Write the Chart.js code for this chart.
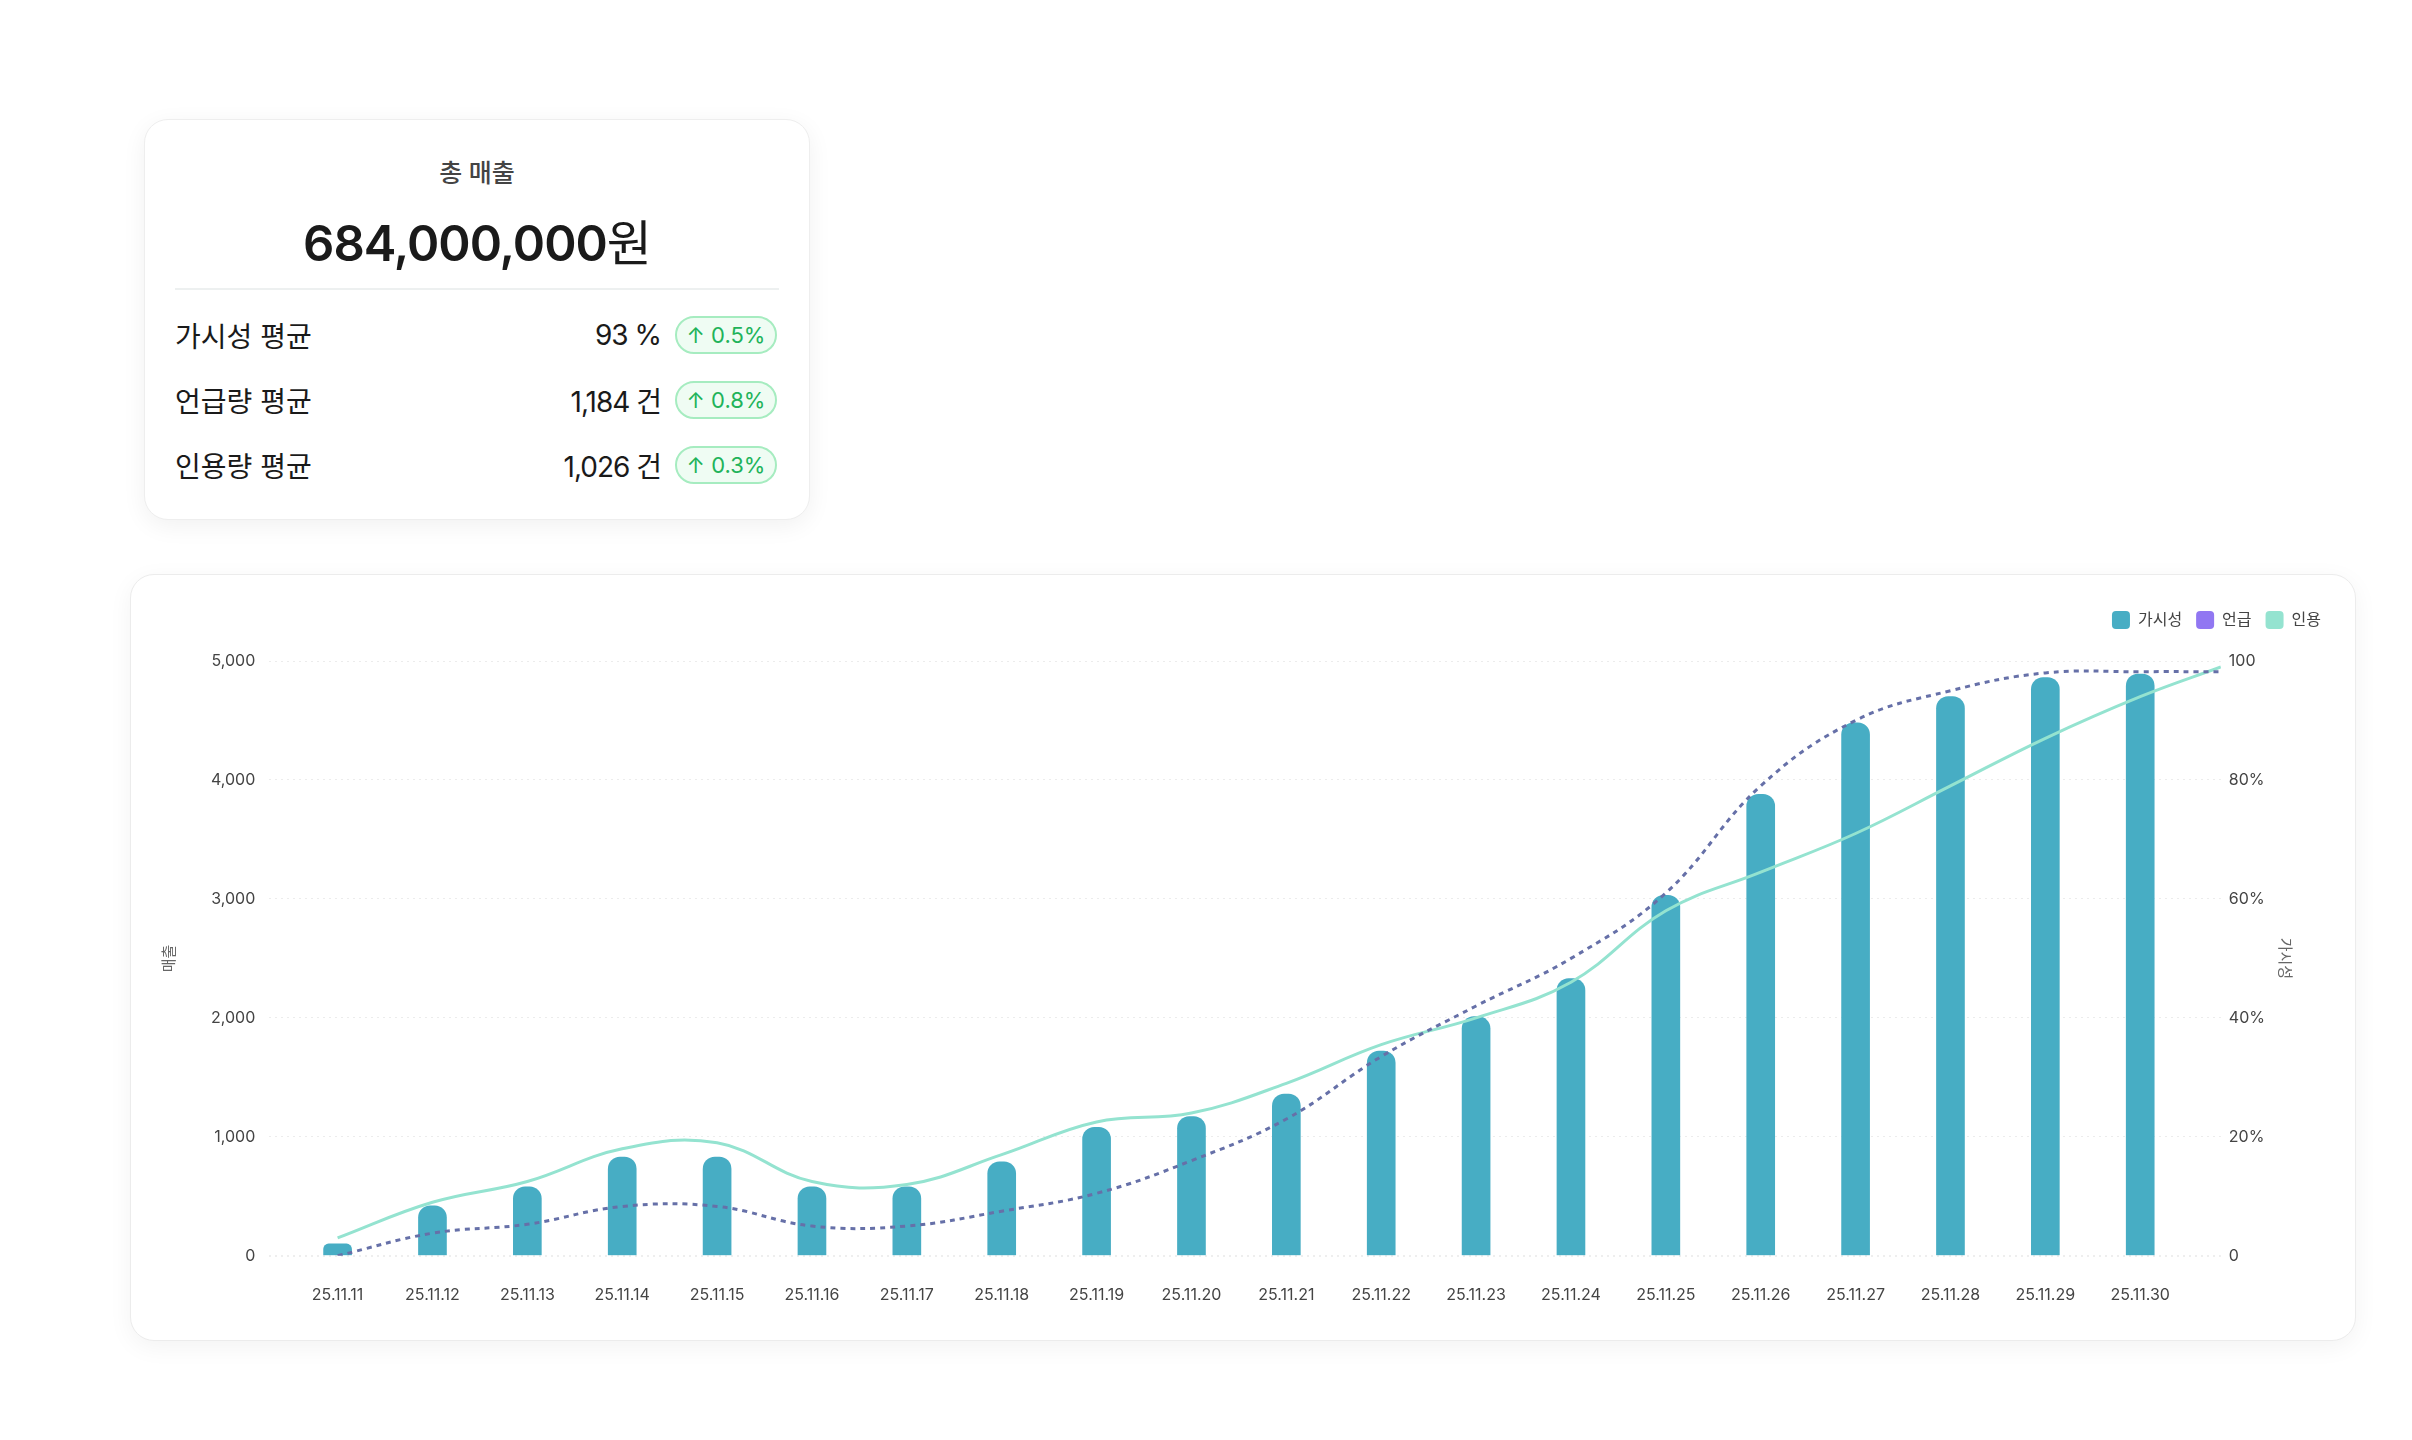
<!DOCTYPE html>
<html>
<head>
<meta charset="utf-8">
<script src="https://cdn.jsdelivr.net/npm/chart.js@4.4.1/dist/chart.umd.min.js"></script>
<style>
  body { margin: 0; width: 2412px; height: 1440px; background: #fff; font-family: Inter, "Noto Sans CJK KR", sans-serif; position: relative; }
  .card { position: absolute; left: 144px; top: 119px; width: 666px; height: 401px; box-sizing: border-box; border: 1px solid #eee; border-radius: 24px; box-shadow: 0 6px 24px rgba(0,0,0,0.06); background: #fff; }
  .title { position: absolute; top: 33px; width: 100%; text-align: center; font-size: 25px; color: #444; font-weight: 500; }
  .total { position: absolute; top: 84px; width: 100%; text-align: center; font-size: 49px; color: #1a1a1a; font-weight: 600; letter-spacing: -1px; }
  .total span { font-weight: 400; }
  .divider { position: absolute; left: 30px; right: 30px; top: 168px; border-top: 2px solid #edf0f0; }
  .row { position: absolute; left: 30px; right: 32px; height: 40px; font-size: 28px; color: #1a1a1a; display: flex; align-items: center; }
  .row .lab { flex: 1; }
  .row .val { margin-right: 14px; letter-spacing: -1px; }
  .badge { width: 102px; height: 38px; box-sizing: border-box; border: 2px solid #a6ecc0; background: #effcf3; color: #21b35a; border-radius: 19px; font-size: 22px; display: flex; align-items: center; justify-content: center; }
  .panel { position: absolute; left: 130px; top: 574px; width: 2226px; height: 767px; box-sizing: border-box; border: 1px solid #ececec; border-radius: 24px; box-shadow: 0 6px 24px rgba(0,0,0,0.05); background: #fff; }
  .wrap { position: absolute; left: 14px; top: 22px; width: 2200px; height: 730px; }
</style>
</head>
<body>
<div class="card">
  <div class="title">총 매출</div>
  <div class="total">684,000,000<span>원</span></div>
  <div class="divider"></div>
  <div class="row" style="top:195px"><div class="lab">가시성 평균</div><div class="val">93 %</div><div class="badge">↑ 0.5%</div></div>
  <div class="row" style="top:260px"><div class="lab">언급량 평균</div><div class="val">1,184 건</div><div class="badge">↑ 0.8%</div></div>
  <div class="row" style="top:325px"><div class="lab">인용량 평균</div><div class="val">1,026 건</div><div class="badge">↑ 0.3%</div></div>
</div>
<div class="panel"><div class="wrap"><canvas id="my-chart"></canvas></div></div>
<script>
const labels = ['25.11.11', '25.11.12', '25.11.13', '25.11.14', '25.11.15', '25.11.16', '25.11.17', '25.11.18', '25.11.19', '25.11.20',
  '25.11.21', '25.11.22', '25.11.23', '25.11.24', '25.11.25', '25.11.26', '25.11.27', '25.11.28', '25.11.29', '25.11.30'];
const salesValues = [100, 420, 580, 830, 830, 580, 580, 790, 1080, 1170, 1360, 1720, 2010, 2330, 3030, 3880, 4480, 4700, 4860, 4890];
// line series carry one extra point at the right edge of the plot
const mentionValues = [0, 3.8, 5.3, 8.3, 8.3, 5, 5, 7.5, 10.5, 16, 23, 33.5, 42, 50, 61, 79, 90, 95, 98, 98.2, 98.2];
const citeValues = [3, 9, 12.5, 18, 19, 12.5, 12, 17, 22.5, 24, 29, 35.5, 40, 46, 58, 64.5, 71, 79, 87, 94, 99];
const leftTicks = [0, 1000, 2000, 3000, 4000, 5000];
const legendColors = ['#47adc4', '#9177f2', '#94e3d0'];
const xMin = -0.72;
const xMax = 19.85;

const tickFont = { family: 'Inter, "Noto Sans CJK KR"', size: 16 };
const xOf = i => i < labels.length ? i : xMax;

new Chart(document.getElementById('my-chart'), {
    data: {
        datasets: [
            {
                type: 'bar', label: '가시성', data: salesValues.map((v, i) => ({ x: i, y: v })), yAxisID: 'y',
                backgroundColor: '#47adc4', borderRadius: { topLeft: 12, topRight: 12 }, borderSkipped: 'bottom',
                barThickness: 28, order: 3
            },
            {
                type: 'line', label: '언급', data: mentionValues.map((v, i) => ({ x: xOf(i), y: v })), yAxisID: 'y1',
                borderColor: '#6670a8', backgroundColor: '#9177f2', borderWidth: 3, borderDash: [5, 5],
                tension: 0.4, pointRadius: 0, order: 1
            },
            {
                type: 'line', label: '인용', data: citeValues.map((v, i) => ({ x: xOf(i), y: v })), yAxisID: 'y1',
                borderColor: '#94e3d0', backgroundColor: '#94e3d0', borderWidth: 3,
                tension: 0.4, pointRadius: 0, order: 2
            }
        ]
    },
    options: {
        responsive: true,
        maintainAspectRatio: false,
        animation: false,
        layout: { padding: { left: 10, right: 10, top: 0, bottom: 0 } },
        plugins: {
            tooltip: { enabled: false },
            legend: {
                position: 'top', align: 'end',
                labels: {
                    font: { family: 'Inter, "Noto Sans CJK KR"', size: 16 }, color: '#444',
                    boxWidth: 18, boxHeight: 18, useBorderRadius: true, borderRadius: 4, padding: 14,
                    generateLabels: chart => chart.data.datasets.map((ds, i) => ({
                        text: ds.label, fillStyle: legendColors[i], strokeStyle: legendColors[i],
                        lineWidth: 0, borderRadius: 4, datasetIndex: i, fontColor: '#444'
                    }))
                }
            }
        },
        scales: {
            x: {
                type: 'linear', min: xMin, max: xMax, offset: false,
                afterBuildTicks: axis => { axis.ticks = labels.map((l, i) => ({ value: i })); },
                grid: { display: false },
                border: { display: false },
                ticks: { font: tickFont, color: '#444', padding: 22, maxRotation: 0, autoSkip: false, callback: v => labels[v] }
            },
            y: {
                position: 'left', min: 0, max: 5000,
                afterBuildTicks: axis => { axis.ticks = leftTicks.map(v => ({ value: v })); },
                afterFit: axis => { axis.chart.legend && 0; },
                border: { display: false, dash: [2, 4] },
                grid: {
                    color: ctx => ctx.tick.value === 0 ? '#eeeeee' : '#ececec',
                    lineWidth: ctx => ctx.tick.value === 0 ? 2 : 1,
                    drawTicks: false
                },
                ticks: { font: tickFont, color: '#444', padding: 14, callback: v => v.toLocaleString('en-US') },
                title: { display: true, text: '매출', font: { family: '"Noto Sans CJK KR"', size: 15 }, color: '#666', padding: { bottom: 20 } }
            },
            y1: {
                position: 'right', min: 0, max: 100,
                border: { display: false },
                grid: { display: false, drawTicks: false },
                ticks: { stepSize: 20, font: tickFont, color: '#444', padding: 8, callback: v => (v === 0 || v === 100) ? v : v + '%' },
                title: { display: true, text: '가시성', font: { family: '"Noto Sans CJK KR"', size: 15 }, color: '#666', padding: { top: 40 } }
            }
        }
    },
    plugins: [{
        id: 'legendGap',
        beforeInit(chart) {
            const fit = chart.legend.fit;
            chart.legend.fit = function () { fit.bind(chart.legend)(); this.height += 22; };
        }
    }]
});
</script>
</body>
</html>
